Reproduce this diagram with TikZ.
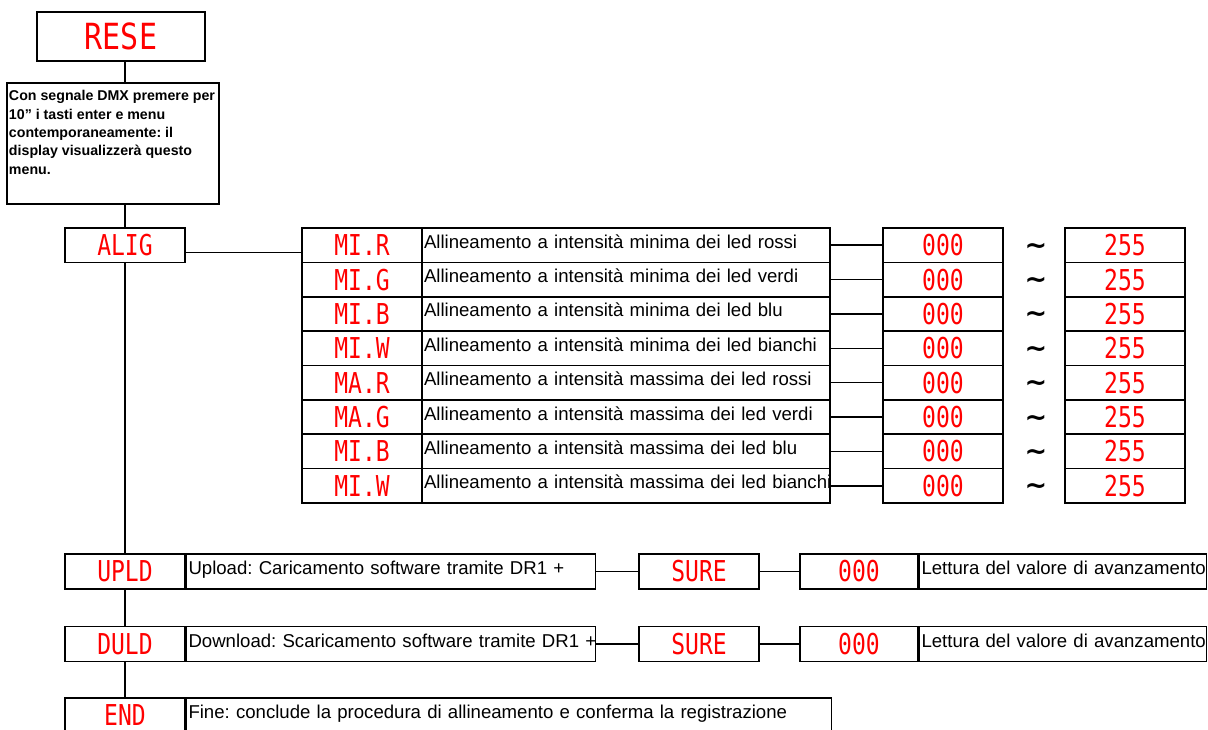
\documentclass[tikz,border=0pt]{standalone}
\usepackage{graphicx}
\usepackage{fontspec}
\setmainfont{Liberation Sans}
\newfontfamily\segfont{DejaVu Sans Mono}
\newfontfamily\symfont{DejaVu Sans}
\definecolor{segred}{RGB}{255,0,0}
\newcommand{\seg}[1]{\scalebox{1}[1.25]{#1}}
\newcommand{\wave}{\symfont\bfseries\char"223C}
\frenchspacing

\begin{document}
\begin{tikzpicture}[x=1pt, y=-1pt, line width=1.5pt,
    box/.style={draw, rectangle, inner sep=0pt, minimum width=120pt, minimum height=34.4pt},
    disp/.style={box, text=segred, font=\fontsize{23}{23}\segfont},
    desc/.style={draw, rectangle, inner xsep=2pt, inner ysep=0pt, minimum height=34.4pt,
        text width=#1, align=left, font=\fontsize{18.6}{22}\selectfont,
        text height=13pt, text depth=7pt},
    wavy/.style={font=\fontsize{27}{27}\selectfont, inner sep=0pt, anchor=base}]

 \useasboundingbox (0,0) rectangle (1208,729);
 \clip (0,0) rectangle (1208,729);

    % Start of the procedure
 \node[box, minimum width=168pt, minimum height=49pt, text=segred,
    font=\fontsize{30}{30}\segfont] (rese) at (121,36.5) {\scalebox{1}[1.2]{RESE}};
 \node[box, minimum width=212pt, minimum height=121pt] (note) at (113,143.5) {};
 \node[anchor=north west, inner sep=0pt, align=left,
    font=\bfseries\fontsize{14.2}{18.3}\selectfont] (notetxt)
    at ([shift={(2,7.6)}]note.north west)
    {Con segnale DMX premere per\\10” i tasti enter e menu\\contemporaneamente: il\\display visualizzerà questo\\menu.};

    % Alignment menu
 \node[disp] (alig) at (125,245.4) {\seg{ALIG}};
 \foreach \code/\lvl/\col [count=\i from 0] in {MI.R/minima/rossi, MI.G/minima/verdi,
        MI.B/minima/blu, MI.W/minima/bianchi, MA.R/massima/rossi, MA.G/massima/verdi,
        MI.B/massima/blu, MI.W/massima/bianchi} {
    \pgfmathsetmacro\ry{228+34.375*(\i+0.5)}
    \node[disp] (code\i) at (362,\ry) {\seg{\code}};
    \node[desc=404pt] (desc\i) at (626,\ry) {\mbox{Allineamento a intensità \lvl\ dei led \col}};
    \node[disp] (lo\i) at (943,\ry) {\seg{000}};
    \node[wavy] (wave\i) at (1036,\ry+9) {\wave};
    \node[disp] (hi\i) at (1125,\ry) {\seg{255}};
    \draw (desc\i.east) -- (lo\i.west);
 }
 \draw ([yshift=-7pt]alig.east) -- ([yshift=-7pt]alig.east -| code0.west);

    % Upload
 \node[disp, minimum height=35pt] (upld) at (125,571.5) {\seg{UPLD}};
 \node[desc=405pt, minimum height=35pt, anchor=west] (upldtxt) at (upld.east)
    {\mbox{Upload: Caricamento software tramite DR1 +}};
 \node[disp, minimum height=35pt] (upldsure) at (699,571.5) {\seg{SURE}};
 \node[disp, minimum width=118pt, minimum height=35pt] (upldval) at (859,571.5) {\seg{000}};
 \node[desc=283pt, minimum height=35pt, anchor=west] (upldread) at (upldval.east)
    {\mbox{Lettura del valore di avanzamento}};
 \draw (upldtxt.east) -- (upldsure.west);
 \draw (upldsure.east) -- (upldval.west);

    % Download
 \node[disp, minimum height=35pt] (duld) at (125,644) {\seg{DULD}};
 \node[desc=405pt, minimum height=35pt, anchor=west] (duldtxt) at (duld.east)
    {\mbox{Download: Scaricamento software tramite DR1 +}};
 \node[disp, minimum height=35pt] (duldsure) at (699,644) {\seg{SURE}};
 \node[disp, minimum width=118pt, minimum height=35pt] (duldval) at (859,644) {\seg{000}};
 \node[desc=283pt, minimum height=35pt, anchor=west] (duldread) at (duldval.east)
    {\mbox{Lettura del valore di avanzamento}};
 \draw (duldtxt.east) -- (duldsure.west);
 \draw (duldsure.east) -- (duldval.west);

    % End
 \node[disp, minimum height=35pt] (fin) at (125,715.5) {\seg{END}};
 \node[desc=641pt, minimum height=35pt, anchor=west] (fintxt) at (fin.east)
    {\mbox{Fine: conclude la procedura di allineamento e conferma la registrazione}};

    % Main line
 \draw (rese.south -| alig.north) -- (note.north -| alig.north);
 \draw (note.south -| alig.north) -- (alig.north);
 \draw (alig.south) -- (upld.north);
 \draw (upld.south) -- (duld.north);
 \draw (duld.south) -- (fin.north);
\end{tikzpicture}
\end{document}
